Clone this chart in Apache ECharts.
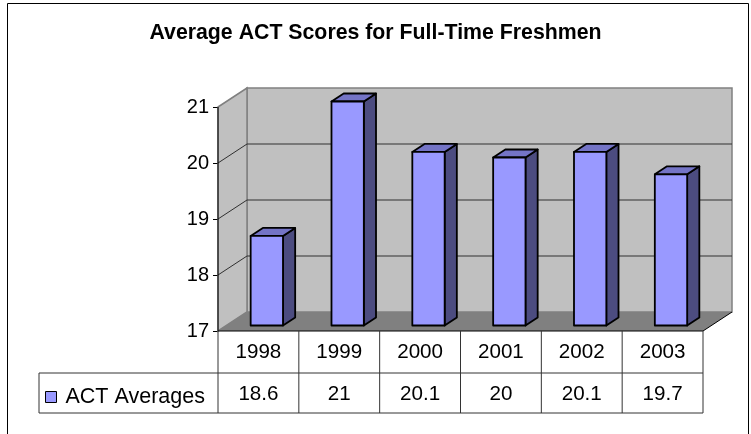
<!DOCTYPE html>
<html>
<head>
<meta charset="utf-8">
<script src="https://cdn.jsdelivr.net/npm/echarts@6/dist/echarts.min.js"></script>
<style>
html,body{margin:0;padding:0;background:#fff;}
#chart{width:751px;height:434px;}
</style>
</head>
<body>
<div id="chart"></div>
<script>
// ---- data ----
const titleText = 'Average ACT Scores for Full-Time Freshmen';
const seriesName = 'ACT Averages';
const years = ['1998', '1999', '2000', '2001', '2002', '2003'];
const actAverages = [18.6, 21, 20.1, 20, 20.1, 19.7];
const yTicks = [17, 18, 19, 20, 21];

// ---- style constants ----
const FONT = 'Liberation Sans, Arial, sans-serif';
const DX = 29, DY = -19;          // 3D depth offset
const D1 = 0.29, D2 = 0.71;       // bar depth range
const Y_MIN = yTicks[0], Y_MAX = yTicks[yTicks.length - 1];
const ROW1 = 42, ROW2 = 82, LEG_LEFT = 39;

function renderWalls(params, api) {
  const cs = params.coordSys;
  const x0 = cs.x, x1 = cs.x + cs.width, yT = cs.y, yB = cs.y + cs.height;
  const ch = [];
  ch.push({type: 'polygon', shape: {points: [[x0 + DX, yT + DY], [x1 + DX, yT + DY], [x1 + DX, yB + DY], [x0 + DX, yB + DY]]},
    style: {fill: '#c0c0c0', stroke: '#808080', lineWidth: 1.5}});
  ch.push({type: 'polygon', shape: {points: [[x0, yT], [x0 + DX, yT + DY], [x0 + DX, yB + DY], [x0, yB]]},
    style: {fill: '#c0c0c0', stroke: '#808080', lineWidth: 1.5}});
  ch.push({type: 'polygon', shape: {points: [[x0, yB], [x0 + DX, yB + DY], [x1 + DX, yB + DY], [x1, yB]]},
    style: {fill: '#808080', stroke: null}});
  yTicks.forEach(function (v) {
    if (v > Y_MIN && v < Y_MAX) {
      const y = api.coord([0, v])[1];
      ch.push({type: 'polyline', shape: {points: [[x0, y], [x0 + DX, y + DY], [x1 + DX, y + DY]]},
        style: {fill: null, stroke: '#303030', lineWidth: 1}});
    }
  });
  ch.push({type: 'line', shape: {x1: x1, y1: yB, x2: x1 + DX, y2: yB + DY}, style: {stroke: '#000', lineWidth: 1}});
  ch.push({type: 'line', shape: {x1: x0, y1: yT, x2: x0, y2: yB}, style: {stroke: '#000', lineWidth: 1}});
  ch.push({type: 'line', shape: {x1: x0, y1: yB, x2: x1, y2: yB}, style: {stroke: '#000', lineWidth: 1}});
  return {type: 'group', children: ch};
}

function renderBar(params, api) {
  const i = api.value(0), v = api.value(1);
  const base = api.coord([i, Y_MIN]);
  const top = api.coord([i, v]);
  const band = api.size([1, 0])[0];
  const w = band * 0.4;
  const fx0 = base[0] - w / 2 + D1 * DX, fx1 = fx0 + w;
  const fyT = top[1] + D1 * DY, fyB = base[1] + D1 * DY;
  const ddx = (D2 - D1) * DX, ddy = (D2 - D1) * DY;
  const stroke = {stroke: '#000', lineWidth: 1.8, lineJoin: 'round'};
  return {type: 'group', children: [
    {type: 'polygon', shape: {points: [[fx1, fyT], [fx1 + ddx, fyT + ddy], [fx1 + ddx, fyB + ddy], [fx1, fyB]]},
      style: Object.assign({fill: '#4c4c80'}, stroke)},
    {type: 'polygon', shape: {points: [[fx0, fyT], [fx1, fyT], [fx1 + ddx, fyT + ddy], [fx0 + ddx, fyT + ddy]]},
      style: Object.assign({fill: '#7474c6'}, stroke)},
    {type: 'rect', shape: {x: fx0, y: fyT, width: w, height: fyB - fyT},
      style: Object.assign({fill: '#9999ff'}, stroke)}
  ]};
}

function renderTable(params, api) {
  const cs = params.coordSys;
  const yB = cs.y + cs.height, x1 = cs.x + cs.width;
  const i = api.value(0), v = api.value(1);
  const c = api.coord([i, Y_MIN]);
  const band = api.size([1, 0])[0];
  const line = {stroke: '#333', lineWidth: 1};
  const ch = [];
  ch.push({type: 'line', shape: {x1: c[0] - band / 2, y1: yB, x2: c[0] - band / 2, y2: yB + ROW2}, style: line});
  if (i === years.length - 1) {
    ch.push({type: 'line', shape: {x1: x1, y1: yB, x2: x1, y2: yB + ROW2}, style: line});
  }
  if (i === 0) {
    ch.push({type: 'line', shape: {x1: LEG_LEFT, y1: yB + ROW1, x2: x1, y2: yB + ROW1}, style: line});
    ch.push({type: 'line', shape: {x1: LEG_LEFT, y1: yB + ROW2, x2: x1, y2: yB + ROW2}, style: line});
    ch.push({type: 'line', shape: {x1: LEG_LEFT, y1: yB + ROW1, x2: LEG_LEFT, y2: yB + ROW2}, style: line});
  }
  ch.push({type: 'text', x: c[0], y: yB + (ROW1 + ROW2) / 2 + 1,
    style: {text: String(v), fill: '#000', font: '20.6px ' + FONT, align: 'center', verticalAlign: 'middle'}});
  return {type: 'group', children: ch};
}

const barData = years.map(function (y, i) { return [i, actAverages[i]]; });

const chart = echarts.init(document.getElementById('chart'), null, {renderer: 'canvas'});
chart.setOption({
  animation: false,
  backgroundColor: '#fff',
  title: {
    text: titleText, left: 'center', top: 23, padding: 0,
    textStyle: {fontFamily: FONT, fontSize: 21.3, fontWeight: 'bold', color: '#000'}
  },
  legend: {
    data: [seriesName], left: 45, top: 386, padding: 0, icon: 'rect',
    itemWidth: 11, itemHeight: 11,
    itemStyle: {borderColor: '#000', borderWidth: 1},
    textStyle: {fontFamily: FONT, fontSize: 21.5, color: '#000', padding: [0, 0, 0, 4]}
  },
  grid: {left: 218, right: 48, top: 107, bottom: 103, containLabel: false},
  xAxis: {
    type: 'category', data: years,
    axisLine: {show: false}, axisTick: {show: false}, splitLine: {show: false},
    axisLabel: {fontFamily: FONT, fontSize: 20.6, color: '#000', margin: 21, verticalAlign: 'middle', interval: 0}
  },
  yAxis: {
    type: 'value', min: Y_MIN, max: Y_MAX, interval: 1,
    axisLine: {show: false},
    axisTick: {show: true, length: 5, lineStyle: {color: '#000', width: 1}},
    splitLine: {show: false},
    axisLabel: {fontFamily: FONT, fontSize: 20, color: '#000', margin: 9}
  },
  graphic: [{
    type: 'rect', silent: true, z: 100,
    shape: {x: 7.5, y: 3.5, width: 741, height: 440},
    style: {fill: null, stroke: '#000', lineWidth: 1}
  }],
  series: [
    {type: 'custom', name: 'walls', renderItem: renderWalls, data: [[0, Y_MIN]], z: 1, clip: false, silent: true},
    {type: 'custom', name: seriesName, renderItem: renderBar, data: barData, z: 3, clip: false,
      itemStyle: {color: '#9999ff'}},
    {type: 'custom', name: 'table', renderItem: renderTable, data: barData, z: 3, clip: false, silent: true}
  ]
});
</script>
</body>
</html>
